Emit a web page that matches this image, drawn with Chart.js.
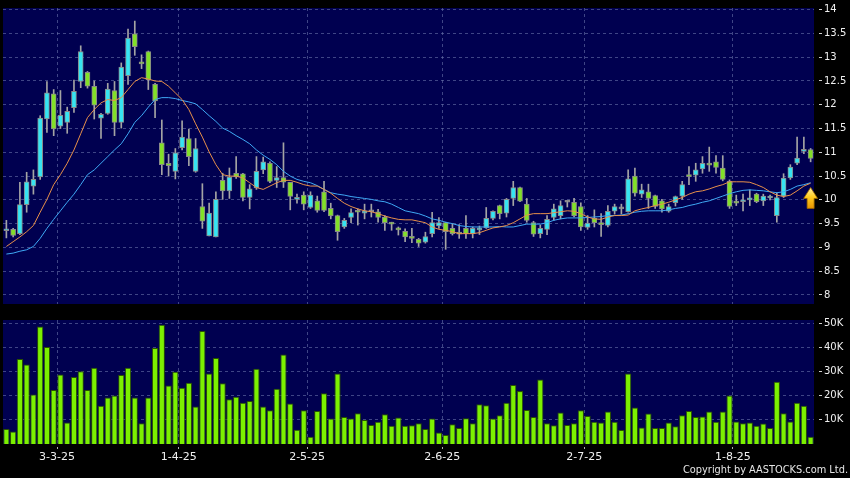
<!DOCTYPE html>
<html>
<head>
<meta charset="utf-8">
<script src="https://cdn.jsdelivr.net/npm/chart.js@4.4.1/dist/chart.umd.min.js"></script>
<style>
  html, body { margin: 0; padding: 0; background: #000; }
  #wrap { position: relative; width: 850px; height: 478px; overflow: hidden; background: #000; }
  #price { position: absolute; left: 0; top: 0; }
  #volume { position: absolute; left: 0; top: 312px; }
  #copy {
    position: absolute; right: 2px; top: 463px; color: #e6e6e6;
    font-family: "DejaVu Sans Condensed", "DejaVu Sans", sans-serif;
    font-stretch: condensed; font-size: 10.9px; white-space: nowrap;
  }
</style>
</head>
<body>
<div id="wrap">
  <canvas id="price" width="850" height="312"></canvas>
  <canvas id="volume" width="850" height="166"></canvas>
  <div id="copy">Copyright by AASTOCKS.com Ltd.</div>
</div>
<script>
// daily candles
const opens = [
  9.35, 9.38, 9.29, 9.90, 10.29, 10.48, 11.70, 12.23, 11.55, 11.63,
  11.94, 12.49, 12.68, 12.39, 11.72, 11.82, 12.30, 11.63, 12.61, 13.49,
  12.88, 13.12, 12.43, 11.20, 10.77, 10.60, 11.10, 11.29, 10.60, 9.86,
  9.24, 9.22, 10.41, 10.19, 10.56, 10.55, 10.05, 10.25, 10.63, 10.77,
  10.41, 10.47, 10.37, 10.01, 10.10, 9.84, 9.98, 10.17, 9.82, 9.67,
  9.43, 9.63, 9.77, 9.72, 9.75, 9.75, 9.64, 9.50, 9.40, 9.34,
  9.21, 9.17, 9.11, 9.29, 9.45, 9.52, 9.40, 9.30, 9.40, 9.29,
  9.37, 9.41, 9.61, 9.88, 9.72, 10.03, 10.26, 9.91, 9.52, 9.29,
  9.38, 9.63, 9.67, 9.95, 9.95, 9.86, 9.42, 9.61, 9.52, 9.46,
  9.76, 9.81, 9.75, 10.50, 10.12, 10.17, 10.09, 9.98, 9.76, 9.94,
  10.08, 10.53, 10.52, 10.65, 10.77, 10.80, 10.67, 10.39, 9.97, 9.96,
  10.00, 10.12, 9.98, 10.04, 9.67, 10.08, 10.46, 10.77, 11.02, 11.06
];
const highs = [
  9.57, 9.40, 10.37, 10.58, 10.63, 11.77, 12.49, 12.32, 12.30, 11.95,
  12.52, 13.24, 12.70, 12.50, 11.82, 12.45, 12.49, 12.88, 13.59, 13.76,
  13.05, 13.13, 12.45, 11.68, 10.96, 11.08, 11.66, 11.49, 11.29, 10.34,
  9.93, 10.17, 10.56, 10.67, 10.91, 10.56, 10.32, 10.91, 10.90, 10.80,
  10.70, 11.20, 10.37, 10.12, 10.17, 10.17, 10.08, 10.39, 9.93, 9.68,
  9.61, 9.81, 9.81, 9.91, 9.91, 9.80, 9.67, 9.53, 9.43, 9.39,
  9.40, 9.19, 9.32, 9.74, 9.63, 9.53, 9.50, 9.48, 9.67, 9.43,
  9.45, 9.84, 9.77, 9.89, 10.03, 10.39, 10.27, 10.03, 9.55, 9.47,
  9.67, 9.91, 9.98, 9.99, 10.03, 9.94, 9.67, 9.79, 9.71, 9.88,
  9.91, 9.91, 10.63, 10.67, 10.33, 10.33, 10.10, 10.01, 9.91, 10.08,
  10.39, 10.70, 10.77, 10.91, 11.11, 10.93, 10.93, 10.42, 10.10, 10.12,
  10.21, 10.14, 10.12, 10.10, 10.15, 10.55, 10.74, 11.32, 11.32, 11.08
];
const lows = [
  9.20, 9.22, 9.27, 9.74, 10.12, 10.43, 11.42, 11.35, 11.50, 11.40,
  11.84, 12.36, 12.35, 11.70, 11.29, 11.80, 11.35, 11.51, 12.43, 13.04,
  12.76, 12.32, 11.73, 10.53, 10.50, 10.44, 11.05, 10.72, 10.58, 9.40,
  9.24, 9.22, 10.01, 10.03, 10.45, 9.98, 9.81, 10.22, 10.55, 10.36,
  10.26, 10.26, 9.79, 9.93, 9.79, 9.82, 9.74, 9.75, 9.60, 9.15,
  9.40, 9.52, 9.47, 9.60, 9.64, 9.53, 9.36, 9.36, 9.26, 9.12,
  9.10, 9.02, 9.09, 9.22, 9.40, 8.96, 9.26, 9.19, 9.19, 9.20,
  9.27, 9.40, 9.58, 9.60, 9.64, 9.88, 9.96, 9.53, 9.23, 9.20,
  9.27, 9.57, 9.60, 9.85, 9.64, 9.36, 9.38, 9.43, 9.23, 9.43,
  9.70, 9.70, 9.74, 10.08, 10.05, 9.82, 9.82, 9.74, 9.74, 9.87,
  10.01, 10.32, 10.39, 10.56, 10.60, 10.56, 10.40, 9.82, 9.88, 9.77,
  9.88, 9.94, 9.88, 10.00, 9.53, 10.05, 10.43, 10.74, 10.97, 10.80
];
const closes = [
  9.38, 9.25, 9.90, 10.38, 10.43, 11.72, 12.25, 11.49, 11.78, 11.86,
  12.28, 13.12, 12.39, 11.99, 11.80, 12.33, 11.63, 12.79, 13.40, 13.22,
  12.86, 12.52, 12.08, 10.74, 10.72, 10.99, 11.32, 10.91, 11.08, 9.55,
  9.72, 10.01, 10.19, 10.48, 10.48, 10.05, 10.23, 10.60, 10.80, 10.39,
  10.47, 10.37, 10.07, 10.04, 9.91, 10.10, 9.78, 9.78, 9.66, 9.33,
  9.57, 9.73, 9.74, 9.77, 9.75, 9.63, 9.52, 9.49, 9.37, 9.22,
  9.19, 9.09, 9.23, 9.52, 9.52, 9.33, 9.29, 9.28, 9.29, 9.40,
  9.40, 9.61, 9.76, 9.71, 10.01, 10.26, 9.97, 9.57, 9.28, 9.40,
  9.59, 9.81, 9.88, 9.95, 9.67, 9.43, 9.51, 9.52, 9.48, 9.76,
  9.86, 9.81, 10.44, 10.14, 10.21, 10.03, 9.86, 9.81, 9.86, 10.07,
  10.32, 10.49, 10.63, 10.77, 10.73, 10.68, 10.43, 9.86, 9.93, 9.98,
  10.01, 9.96, 10.08, 10.05, 10.05, 10.46, 10.69, 10.88, 11.05, 10.87
];
// volume in thousands of shares
const volumes = [
  6.2, 5.2, 35.2, 32.9, 20.5, 48.6, 40.1, 22.3, 28.8, 8.9,
  27.7, 30.1, 22.3, 31.5, 15.8, 19.2, 20.1, 28.5, 31.5, 19.2,
  8.6, 19.2, 39.7, 49.3, 24.2, 29.9, 23.3, 25.3, 15.5, 46.8,
  29.2, 35.6, 25.1, 18.5, 19.5, 17.1, 17.8, 31.1, 15.5, 14.0,
  22.9, 37.0, 16.8, 5.9, 14.0, 3.0, 13.7, 21.0, 10.5, 29.2,
  11.2, 10.5, 12.7, 9.9, 7.9, 9.2, 12.3, 7.5, 11.0, 7.5,
  7.8, 8.6, 6.2, 10.5, 4.8, 3.7, 8.2, 6.6, 10.7, 8.6,
  16.4, 16.0, 10.5, 11.9, 17.1, 24.4, 21.9, 14.1, 11.2, 26.7,
  8.6, 7.8, 13.0, 7.9, 8.6, 14.0, 11.6, 9.2, 8.9, 13.4,
  9.2, 5.8, 29.2, 15.1, 6.8, 12.6, 6.6, 6.6, 8.9, 7.3,
  11.9, 13.7, 11.2, 11.4, 13.4, 9.2, 13.4, 20.1, 9.3, 8.6,
  8.9, 7.5, 8.5, 6.6, 25.8, 12.7, 9.3, 17.1, 15.8, 3.0
];
// moving average lines as drawn (orange = short, blue = long)
const maShort = [
  9.02, 9.12, 9.22, 9.33, 9.46, 9.74, 10.01, 10.32, 10.53, 10.77,
  11.05, 11.39, 11.73, 11.90, 12.04, 12.11, 12.09, 12.15, 12.32, 12.49,
  12.57, 12.54, 12.50, 12.49, 12.39, 12.25, 12.11, 11.90, 11.60, 11.32,
  11.01, 10.74, 10.53, 10.50, 10.50, 10.46, 10.36, 10.26, 10.22, 10.29,
  10.36, 10.41, 10.41, 10.37, 10.32, 10.29, 10.29, 10.22, 10.14, 10.03,
  9.93, 9.86, 9.81, 9.77, 9.75, 9.71, 9.66, 9.62, 9.59, 9.58,
  9.58, 9.55, 9.52, 9.43, 9.38, 9.36, 9.33, 9.29, 9.29, 9.29,
  9.31, 9.36, 9.41, 9.43, 9.46, 9.52, 9.60, 9.68, 9.71, 9.71,
  9.71, 9.73, 9.75, 9.77, 9.76, 9.71, 9.64, 9.60, 9.59, 9.64,
  9.67, 9.67, 9.68, 9.77, 9.81, 9.84, 9.88, 9.91, 9.95, 10.00,
  10.05, 10.12, 10.17, 10.19, 10.23, 10.28, 10.32, 10.38, 10.38, 10.38,
  10.37, 10.32, 10.26, 10.17, 10.10, 10.07, 10.10, 10.19, 10.29, 10.35
];
const maLong = [
  8.86, 8.88, 8.92, 8.95, 9.02, 9.19, 9.40, 9.59, 9.77, 9.95,
  10.12, 10.32, 10.53, 10.63, 10.77, 10.91, 11.05, 11.18, 11.39, 11.63,
  11.77, 11.95, 12.11, 12.15, 12.15, 12.13, 12.09, 12.06, 12.02, 11.90,
  11.77, 11.65, 11.51, 11.44, 11.35, 11.27, 11.18, 11.05, 10.94, 10.85,
  10.74, 10.60, 10.50, 10.43, 10.39, 10.36, 10.30, 10.22, 10.15, 10.12,
  10.10, 10.07, 10.05, 10.03, 10.01, 9.98, 9.96, 9.91, 9.84, 9.77,
  9.74, 9.71, 9.66, 9.60, 9.57, 9.53, 9.50, 9.46, 9.44, 9.43,
  9.43, 9.43, 9.43, 9.44, 9.43, 9.43, 9.46, 9.49, 9.49, 9.49,
  9.52, 9.57, 9.60, 9.62, 9.62, 9.62, 9.63, 9.64, 9.65, 9.67,
  9.67, 9.68, 9.71, 9.74, 9.76, 9.77, 9.77, 9.77, 9.79, 9.82,
  9.84, 9.88, 9.91, 9.95, 9.98, 10.03, 10.08, 10.13, 10.17, 10.20,
  10.21, 10.20, 10.19, 10.17, 10.15, 10.17, 10.22, 10.29, 10.32, 10.36
];
const priceTicks = [8, 8.5, 9, 9.5, 10, 10.5, 11, 11.5, 12, 12.5, 13, 13.5, 14];
const volumeTicks = [10, 20, 30, 40, 50];
const monthLabels = ['3-3-25', '1-4-25', '2-5-25', '2-6-25', '2-7-25', '1-8-25'];
const monthIndex = [8, 26, 45, 65, 86, 108];
const arrowMark = { index: 119, tip: 10.26, neck: 10.03, base: 9.82 };

const labels = closes.map((_, i) => String(i));
const UP = '#36e4f2', DOWN = '#82e028', FLAT = '#9a9a9a';
const bodyColors = closes.map((c, i) => c > opens[i] ? UP : (c < opens[i] ? DOWN : FLAT));
const gridColor = 'rgba(105,115,170,0.6)';
const textColor = '#f0f0f0';

const panelBg = {
  id: 'panelBg',
  beforeDraw(chart) {
    const { ctx, chartArea: a } = chart;
    ctx.save();
    ctx.fillStyle = '#000050';
    ctx.fillRect(a.left, a.top, a.right - a.left, a.bottom - a.top);
    ctx.restore();
  }
};

const arrowPlugin = {
  id: 'arrowMark',
  afterDatasetsDraw(chart) {
    const { ctx, scales: { x, y } } = chart;
    const cx = x.getPixelForValue(arrowMark.index);
    const tip = y.getPixelForValue(arrowMark.tip);
    const neck = y.getPixelForValue(arrowMark.neck);
    const base = y.getPixelForValue(arrowMark.base);
    const g = ctx.createLinearGradient(0, tip, 0, base);
    g.addColorStop(0, '#fff4a8');
    g.addColorStop(0.45, '#ffcc20');
    g.addColorStop(1, '#e89400');
    ctx.save();
    ctx.beginPath();
    ctx.moveTo(cx, tip);
    ctx.lineTo(cx + 7, neck);
    ctx.lineTo(cx + 3.5, neck);
    ctx.lineTo(cx + 3.5, base);
    ctx.lineTo(cx - 3.5, base);
    ctx.lineTo(cx - 3.5, neck);
    ctx.lineTo(cx - 7, neck);
    ctx.closePath();
    ctx.fillStyle = g;
    ctx.fill();
    ctx.strokeStyle = '#9a6400';
    ctx.lineWidth = 0.8;
    ctx.stroke();
    ctx.restore();
  }
};

function xAxis(showLabels) {
  return {
    type: 'category',
    offset: true,
    grid: {
      offset: true,
      color: c => monthIndex.includes(c.index) ? gridColor : 'transparent',
      drawTicks: showLabels,
      tickLength: 5,
      tickColor: c => monthIndex.includes(c.index) ? '#b0b0b0' : 'transparent',
      tickBorderDash: [0, 3, 2, 20]
    },
    border: { display: false, dash: [3, 3] },
    ticks: {
      display: showLabels,
      autoSkip: false,
      maxRotation: 0,
      labelOffset: -3.4,
      padding: 2,
      color: textColor,
      font: { family: 'DejaVu Sans', size: 11 },
      callback: (v, i) => {
        const k = monthIndex.indexOf(i);
        return k >= 0 ? monthLabels[k] : '';
      }
    },
    afterFit: s => { s.height = showLabels ? 34 : 5; }
  };
}

function yAxis(min, max, tickValues, fmt) {
  return {
    position: 'right',
    min: min,
    max: max,
    afterBuildTicks: s => { s.ticks = tickValues.map(v => ({ value: v })); },
    afterFit: s => { s.width = 36; },
    grid: {
      color: gridColor,
      tickLength: 8,
      tickColor: '#d0d0d0',
      tickBorderDash: [0, 5, 3, 20]
    },
    border: { display: false, dash: [3, 3] },
    ticks: {
      padding: 2,
      color: textColor,
      font: { family: 'DejaVu Sans', size: 10 },
      callback: fmt
    }
  };
}

new Chart(document.getElementById('price'), {
  type: 'bar',
  data: {
    labels: labels,
    datasets: [
      {
        type: 'line', data: maShort, borderColor: '#e8904a', borderWidth: 1,
        pointRadius: 0, order: 0
      },
      {
        type: 'line', data: maLong, borderColor: '#3fa9f5', borderWidth: 1,
        pointRadius: 0, order: 1
      },
      {
        data: opens.map((o, i) => [o, closes[i]]),
        backgroundColor: bodyColors, borderColor: '#8a8a8a', borderWidth: 1,
        borderSkipped: false, barThickness: 5, minBarLength: 2, grouped: false, order: 2
      },
      {
        data: lows.map((l, i) => [l, highs[i]]),
        backgroundColor: '#a4a4a4', barThickness: 1, grouped: false, order: 3
      }
    ]
  },
  options: {
    responsive: false,
    animation: false,
    devicePixelRatio: 1,
    layout: { padding: { left: 3, top: 5, right: 0, bottom: 0 } },
    plugins: { legend: { display: false }, tooltip: { enabled: false } },
    scales: {
      x: xAxis(false),
      y: yAxis(7.81, 14.035, priceTicks, v => String(v))
    }
  },
  plugins: [panelBg, arrowPlugin]
});

new Chart(document.getElementById('volume'), {
  type: 'bar',
  data: {
    labels: labels,
    datasets: [{
      data: volumes,
      backgroundColor: '#7cf000',
      borderColor: '#2a5200',
      borderWidth: 1,
      barPercentage: 1,
      categoryPercentage: 0.92
    }]
  },
  options: {
    responsive: false,
    animation: false,
    devicePixelRatio: 1,
    layout: { padding: { left: 3, top: 7, right: 0, bottom: 0 } },
    plugins: { legend: { display: false }, tooltip: { enabled: false } },
    scales: {
      x: xAxis(true),
      y: yAxis(0, 51.3, volumeTicks, v => v + 'K')
    }
  },
  plugins: [panelBg]
});
</script>
</body>
</html>
